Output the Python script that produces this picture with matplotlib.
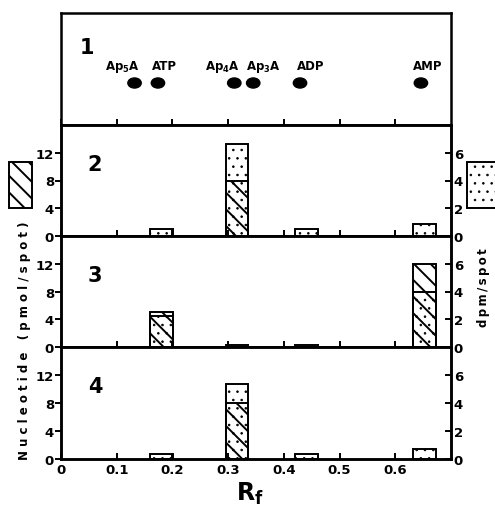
import matplotlib.pyplot as plt
from matplotlib.patches import Ellipse, Rectangle

plt.rcParams['font.family'] = 'DejaVu Sans'
plt.rcParams['font.weight'] = 'bold'
plt.rcParams['mathtext.default'] = 'regular'
plt.rcParams['hatch.linewidth'] = 1.4

# panel 1: marker spots on the strip
spot_names = ['Ap$_5$A', 'ATP', 'Ap$_4$A', 'Ap$_3$A', 'ADP', 'AMP']
spot_rf = [0.132, 0.174, 0.311, 0.345, 0.429, 0.646]
label_rf = [0.110, 0.186, 0.290, 0.364, 0.448, 0.659]

# panels 2-4: zones cut from the strip
zone_rf = [0.181, 0.316, 0.440, 0.653]

nuc_2 = [0, 8.0, 0, 0]          # pmol/spot (left axis)
dpm_2 = [0.48, 6.6, 0.47, 0.83]  # dpm/spot (right axis)
nuc_3 = [5.1, 0, 0, 12.0]
dpm_3 = [2.25, 0.15, 0.12, 4.0]
nuc_4 = [0, 8.0, 0, 0]
dpm_4 = [0.35, 5.35, 0.35, 0.75]

x_ticks = [0, 0.1, 0.2, 0.3, 0.4, 0.5, 0.6]
x_tick_labels = ['0', '0.1', '0.2', '0.3', '0.4', '0.5', '0.6']

W, H = 495, 510
fig = plt.figure(figsize=(W / 100, H / 100), dpi=100)

edges = [14, 126, 237, 348, 460]  # panel boundaries, pixels from top
x0, x1 = 61, 451


def thin_dots(patch):
    # dots drawn with a thinner hatch stroke than the diagonal lines
    if hasattr(patch, 'set_hatch_linewidth'):
        patch.set_hatch_linewidth(0.6)


def make_axes(i):
    top, bot = edges[i], edges[i + 1]
    ax = fig.add_axes([x0 / W, 1 - bot / H, (x1 - x0) / W, (bot - top) / H])
    ax.set_xlim(0, 0.7)
    for s in ax.spines.values():
        s.set_linewidth(1.8)
    ax.set_xticks(x_ticks)
    ax.tick_params(axis='x', direction='in', length=4, width=1.4,
                   labelsize=9.5, pad=3)
    if i == 3:
        ax.set_xticklabels(x_tick_labels)
    else:
        ax.set_xticklabels([])
    return ax


# panel 1
ax1 = make_axes(0)
ax1.set_ylim(0, 1)
ax1.set_yticks([])
for rf, lx, name in zip(spot_rf, label_rf, spot_names):
    ax1.add_patch(Ellipse((rf, 0.375), 0.024, 0.09, color='black'))
    ax1.text(lx, 0.53, name, fontsize=8.5, ha='center', va='center')
ax1.text(0.066, 0.70, '1', fontsize=15, transform=ax1.transAxes,
         ha='center', va='center')

panels = [(nuc_2, dpm_2, '2'), (nuc_3, dpm_3, '3'), (nuc_4, dpm_4, '4')]
for i, (nuc, dpm, num) in enumerate(panels, start=1):
    ax = make_axes(i)
    ax.set_ylim(0, 16)
    ax.set_yticks([0, 4, 8, 12])
    ax.tick_params(axis='y', direction='out', length=4, width=1.4,
                   labelsize=9.5, pad=1)
    ax2 = ax.twinx()
    ax2.set_ylim(0, 8)
    ax2.set_yticks([0, 2, 4, 6])
    ax2.tick_params(axis='y', direction='in', length=4, width=1.4,
                    labelsize=9.5, pad=2)
    for s in ax2.spines.values():
        s.set_linewidth(1.8)

    ax.bar(zone_rf, nuc, width=0.041, facecolor='none', edgecolor='black',
           hatch='\\\\', linewidth=1.4)
    bars = ax2.bar(zone_rf, dpm, width=0.041, facecolor='none',
                   edgecolor='black', hatch='..', linewidth=1.4)
    for b in bars:
        thin_dots(b)
    ax.text(0.087, 0.65, num, fontsize=15, transform=ax.transAxes,
            ha='center', va='center')

# legend boxes at the sides
fig.add_artist(Rectangle((9 / W, 1 - 209 / H), 23 / W, 46 / H,
                         transform=fig.transFigure, fill=False,
                         hatch='\\\\', linewidth=1.4))
box = Rectangle((467 / W, 1 - 209 / H), 32 / W, 46 / H,
                transform=fig.transFigure, fill=False,
                hatch='..', linewidth=1.4)
thin_dots(box)
fig.add_artist(box)

fig.text(25 / W, 1 - 341 / H, ' '.join('Nucleotide (pmol/spot)'),
         rotation=90, ha='center', va='center', fontsize=8.5)
fig.text(484 / W, 1 - 288 / H, '\u2009'.join('dpm/spot'),
         rotation=90, ha='center', va='center', fontsize=8.5)
fig.text(250 / W, 1 - 494 / H, 'R$_f$', fontsize=17,
         ha='center', va='center')

fig.savefig('out.png', dpi=100)
